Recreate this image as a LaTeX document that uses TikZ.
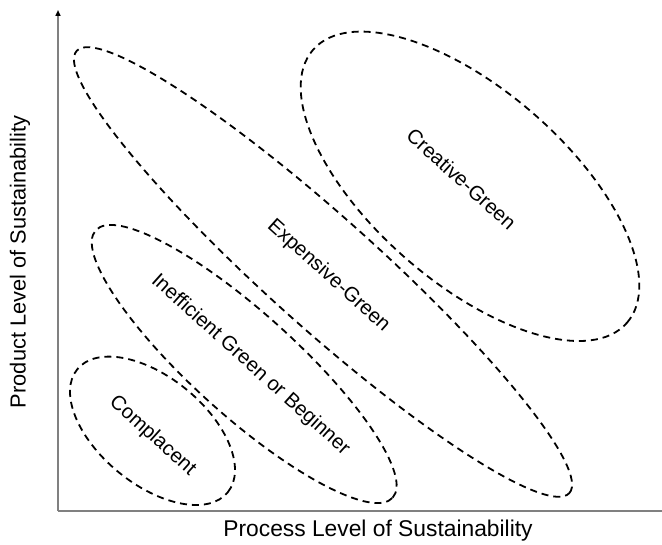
\documentclass[tikz,border=0pt]{standalone}
\usepackage{fontspec}
\setmainfont{Liberation Sans}
\usetikzlibrary{shapes.geometric,arrows.meta}
\begin{document}
\begin{tikzpicture}[x=1pt,y=-1pt,
  zone/.style={ellipse,draw=black,dash pattern=on 7pt off 5pt,line width=1.8pt,inner sep=0pt,minimum width=#1},
  zonelabel/.style={font=\fontsize{20.3}{24}\selectfont,rotate=-42,inner sep=0pt},
  axislabel/.style={font=\fontsize{21.8}{26}\selectfont,inner sep=0pt},
  axisline/.style={draw=black!50,line width=1.6pt}]
\useasboundingbox (0,0) rectangle (662,545);
% axes
\coordinate (O) at (58,511);
\coordinate (ytop) at (58,10);
\coordinate (xend) at (662,511);
\draw[axisline,-{Triangle[length=6pt,width=5pt,fill=black,color=black]}] (O) -- (ytop);
\draw[axisline] (O) -- (xend);
\node[axislabel,font=\fontsize{22.8}{27}\selectfont] (xlab) at (378,531) {Process Level of Sustainability};
\node[axislabel,rotate=90] (ylab) at (20,262) {Product Level of Sustainability};
% zones
\node[zone=194.4pt,minimum height=107pt,rotate=-39.3] (comp) at (152.5,430.8) {};
\node[zone=399.6pt,minimum height=102.8pt,rotate=-42] (ineff) at (244.2,364) {};
\node[zone=662pt,minimum height=109.6pt,rotate=-41.9] (exp) at (323,272) {};
\node[zone=416pt,minimum height=193pt,rotate=-41] (crea) at (470,186.3) {};
% labels
\node[zonelabel] (compl) at (152.5,436) {Complacent};
\node[zonelabel] (ineffl) at (250.5,365) {Inefficient Green or Beginner};
\node[zonelabel] (expl) at (328.5,276) {Expensive-Green};
\node[zonelabel] (creal) at (461.5,179) {Creative-Green};
\end{tikzpicture}
\end{document}
